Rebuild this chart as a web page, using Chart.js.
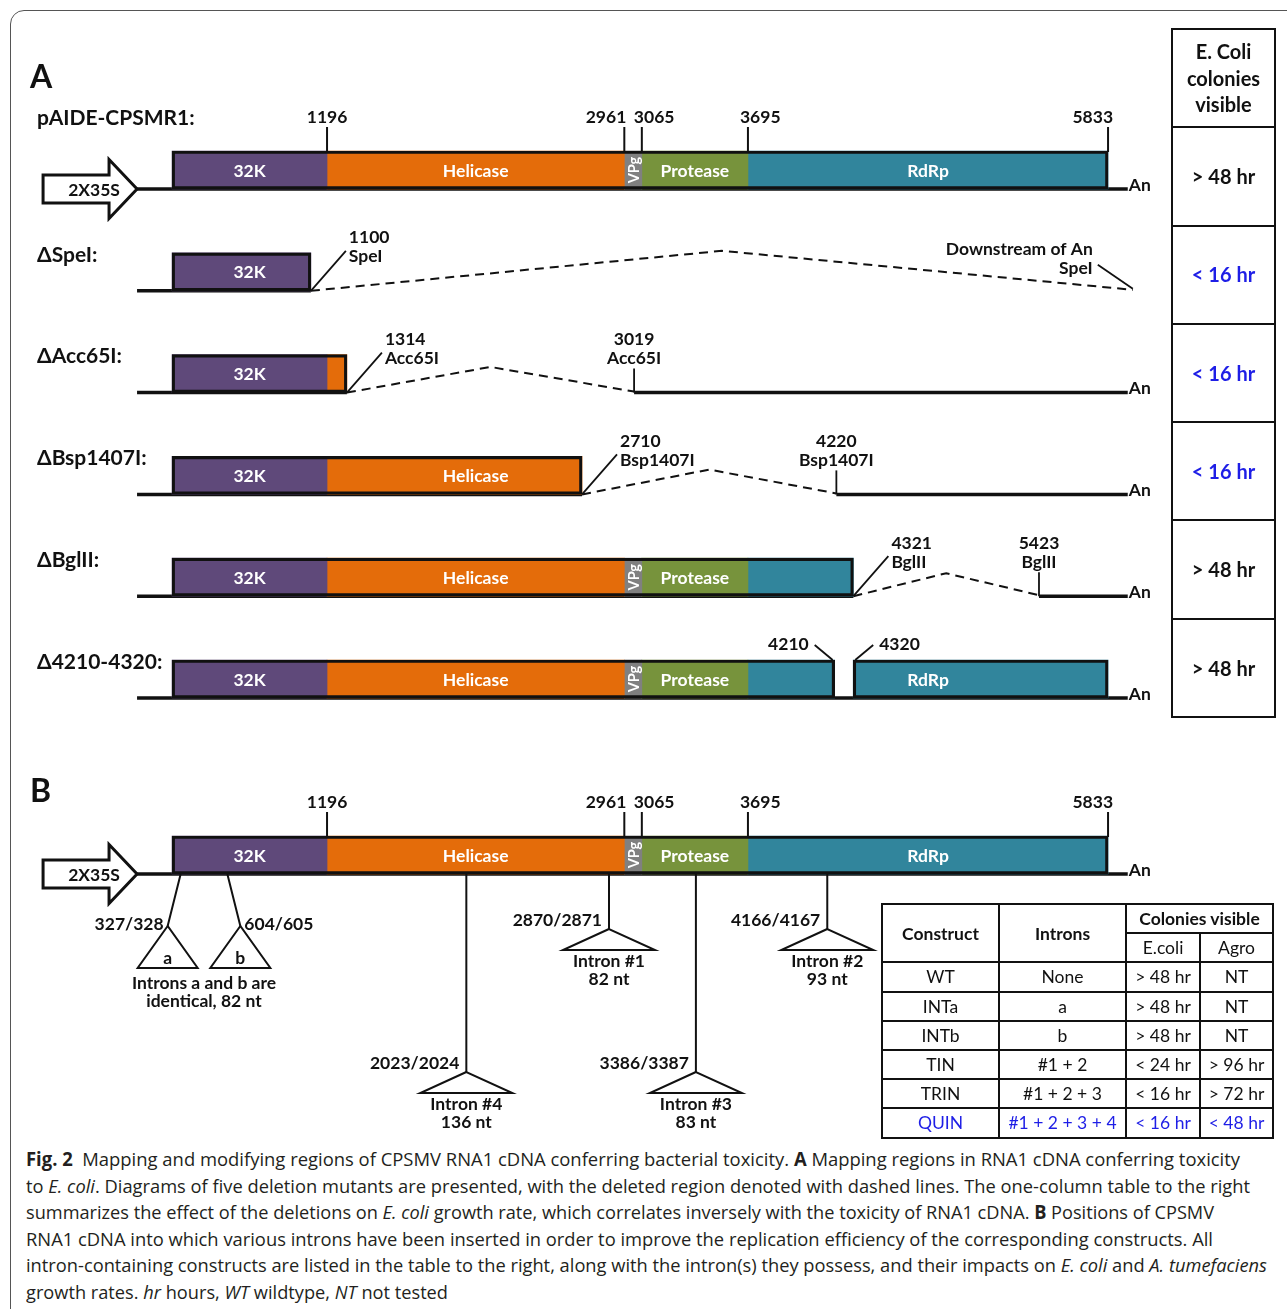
<!DOCTYPE html>
<html>
<head>
<meta charset="utf-8">
<title>CPSMV RNA1 cDNA deletion and intron maps</title>
<script src="https://cdn.jsdelivr.net/npm/chart.js@4.4.1/dist/chart.umd.min.js"></script>
<style>
  html, body { margin: 0; padding: 0; background: #fff; }
  body { width: 1287px; height: 1309px; position: relative; overflow: hidden; font-family: Lato, 'Open Sans', sans-serif; }
  #frame { position: absolute; left: 10px; top: 10px; width: 1400px; height: 1400px; border: 1.5px solid #555; border-radius: 14px; box-sizing: border-box; }
  #map { position: absolute; left: 0; top: 0; }
  table { position: absolute; border-collapse: collapse; table-layout: fixed; }
  td, th { border: 2px solid #111; padding: 0; text-align: center; color: #111; box-sizing: border-box; }
  #tableA { left: 1171px; top: 28px; width: 105px; }
  #tableA td { height: 98.3px; font: bold 20px Lato, sans-serif; line-height: 26.5px; }
  #tableB { left: 881px; top: 903px; width: 391px; }
  #tableB tr { height: 29.2px; }
  #tableB th { font: bold 17.5px Lato, sans-serif; }
  #tableB th.sub { font-weight: normal; }
  #tableB td { font: 17.5px Lato, sans-serif; }
  .hi { color: #1e1ee6 !important; }
  #caption { position: absolute; left: 26px; top: 1146px; font-family: 'Open Sans', 'Noto Sans', sans-serif; font-size: 19px; color: #231f20; }
  #caption div { white-space: nowrap; height: 26.6px; line-height: 26.6px; width: max-content; transform-origin: 0 50%; }
</style>
</head>
<body>
<div id="frame"></div>
<canvas id="map" width="1287" height="1145" style="width:1287px;height:1145px"></canvas>
<table id="tableA"></table>
<table id="tableB"></table>
<div id="caption"></div>
<script>
// ---- CPSMV RNA1 genome map (nucleotide coordinates) ----
const regionNames   = ['32K', 'Helicase', 'VPg', 'Protease', 'RdRp'];
const regionStart   = [276, 1196, 2961, 3065, 3695];
const regionEnd     = [1196, 2961, 3065, 3695, 5833];
const boundaryTicks = [1196, 2961, 3065, 3695, 5833];
const promoterName  = '2X35S';
const promoterSpan  = [-490, 68];
const polyASite     = 5950;

// ---- Panel A: deletion constructs ----
const constructNames = ['pAIDE-CPSMR1:', 'ΔSpeI:', 'ΔAcc65I:', 'ΔBsp1407I:', 'ΔBglII:', 'Δ4210-4320:'];
const deletionFrom   = [null, 1100, 1314, 2710, 4321, 4210];
const deletionTo     = [null, 5980, 3019, 4220, 5423, 4320];
const deletionEnzyme = [null, 'SpeI', 'Acc65I', 'Bsp1407I', 'BglII', null];
const inFrame        = [null, false, false, false, false, true];
const ecoliColonies  = ['> 48 hr', '< 16 hr', '< 16 hr', '< 16 hr', '> 48 hr', '> 48 hr'];

// ---- Panel B: intron insertion sites ----
const intronSites      = [327, 604, 2023, 2870, 3386, 4166];
const intronSiteLabels = ['327/328', '604/605', '2023/2024', '2870/2871', '3386/3387', '4166/4167'];
const intronNames      = ['a', 'b', 'Intron #4', 'Intron #1', 'Intron #3', 'Intron #2'];
const intronLengths    = [82, 82, 136, 82, 83, 93];

// ---- Intron construct table ----
const tableConstructs = ['WT', 'INTa', 'INTb', 'TIN', 'TRIN', 'QUIN'];
const tableIntrons    = ['None', 'a', 'b', '#1 + 2', '#1 + 2 + 3', '#1 + 2 + 3 + 4'];
const tableEcoli      = ['> 48 hr', '> 48 hr', '> 48 hr', '< 24 hr', '< 16 hr', '< 16 hr'];
const tableAgro       = ['NT', 'NT', 'NT', '> 96 hr', '> 72 hr', '< 48 hr'];
const highlightConstruct = 'QUIN';

// ---- Layout and style ----
const X_MIN = -745.7, X_MAX = 6895.5;
const TRACK_A0 = 170, TRACK_GAP = 101.8, TRACK_B = 855;
const BAR = 38, HALF = BAR / 2;
const PANEL_LETTERS = [['A', 78], ['B', 792]];
const REGION_COLORS = ['#5f497a', '#e46c0a', '#808080', '#77933c', '#31859c'];
const TICK_ALIGN = ['center', 'right', 'left', 'left', 'right'];
const TICK_SHIFT = [0, 2, -8, -8, 5];
const INTRON_DROP = [52, 52, 198, 55, 198, 55];
const INTRON_LEAN = [-13, 13, 0, 0, 0, 0];
const INK = '#111';
const FONT = 'Lato, sans-serif';
const TXT = 17.5;
const CAPTION_RIGHT = [1240, 1250, 1214, 1213, 1267, 448];

// Boxed (translated) spans of construct i
function keptSpans(i) {
  const full = [regionStart[0], regionEnd[regionEnd.length - 1]];
  if (deletionFrom[i] == null) return [full];
  const spans = [[full[0], deletionFrom[i]]];
  if (inFrame[i]) spans.push([deletionTo[i], full[1]]);
  return spans;
}

const tracksA = constructNames.map((name, i) => ({
  name, index: i, y: TRACK_A0 + i * TRACK_GAP,
  from: deletionFrom[i], to: deletionTo[i], enzyme: deletionEnzyme[i], inFrame: inFrame[i],
  header: i === 0, spans: keptSpans(i)
}));
const trackB = { name: null, index: -1, y: TRACK_B, from: null, to: null, header: true,
  spans: [[regionStart[0], regionEnd[regionEnd.length - 1]]] };
const allTracks = [...tracksA, trackB];

function backboneSegments(t) {
  const start = promoterSpan[1];
  if (t.from == null || t.inFrame) return [[start, polyASite]];
  const segs = [[start, t.from]];
  if (t.to < polyASite) segs.push([t.to, polyASite]);
  return segs;
}

// ---- Datasets ----
const regionDatasets = regionNames.map((name, r) => ({
  type: 'bar', label: name, indexAxis: 'y', grouped: false, order: 2,
  backgroundColor: REGION_COLORS[r], borderWidth: 0, barThickness: BAR,
  data: allTracks.flatMap(t => t.spans
    .map(([s, e]) => [Math.max(s, regionStart[r]), Math.min(e, regionEnd[r])])
    .filter(([s, e]) => e > s)
    .map(span => ({ x: span, y: t.y })))
}));

const outlineDataset = {
  type: 'bar', label: 'outline', indexAxis: 'y', grouped: false, order: 1,
  backgroundColor: 'rgba(0,0,0,0)', borderColor: INK, borderWidth: 2.5, borderSkipped: false,
  barThickness: BAR,
  data: allTracks.flatMap(t => t.spans.map(span => ({ x: span.slice(), y: t.y })))
};

const lineBase = { type: 'line', borderColor: INK, pointRadius: 0, pointHoverRadius: 0,
  tension: 0, fill: false, borderCapStyle: 'butt' };

const backboneDatasets = allTracks.flatMap(t => backboneSegments(t).map(([a, b]) => Object.assign({}, lineBase, {
  label: 'backbone', order: 3, borderWidth: 3.5,
  data: [{ x: a, y: t.y + HALF }, { x: b, y: t.y + HALF }]
})));

const deletionDatasets = tracksA.filter(t => t.from != null && !t.inFrame).map(t => {
  const bottom = t.y + HALF;
  const lift = 18 + (t.to - t.from) * 0.0045;
  return Object.assign({}, lineBase, {
    label: 'deleted', order: 3, borderWidth: 2, borderDash: [9, 6],
    data: [{ x: t.from, y: bottom }, { x: (t.from + t.to) / 2, y: bottom - lift }, { x: t.to, y: bottom - 1 }]
  });
});

// ---- Drawing helpers ----
function label(ctx, str, x, y, opt = {}) {
  ctx.font = `${opt.weight || 'bold'} ${opt.size || TXT}px ${FONT}`;
  ctx.fillStyle = opt.color || INK;
  ctx.textAlign = opt.align || 'center';
  ctx.textBaseline = 'middle';
  ctx.fillText(str, x, y);
}
function path(ctx, pts, width = 2) {
  ctx.beginPath();
  pts.forEach(([a, b], k) => k ? ctx.lineTo(a, b) : ctx.moveTo(a, b));
  ctx.lineWidth = width;
  ctx.strokeStyle = INK;
  ctx.stroke();
}

const annotations = {
  id: 'genomeMapAnnotations',
  afterDatasetsDraw(chart) {
    const { ctx, scales: { x, y } } = chart;
    const X = v => x.getPixelForValue(v);
    const Y = v => y.getPixelForValue(v);
    ctx.save();
    ctx.lineJoin = 'miter';

    PANEL_LETTERS.forEach(([ch, py]) => label(ctx, ch, 30, py, { size: 32, align: 'left' }));

    allTracks.forEach(t => {
      const cy = Y(t.y), top = cy - HALF, bottom = cy + HALF;

      // construct name
      if (t.name) label(ctx, t.name, 37, t.header ? top - 33 : cy - 17, { size: 21, align: 'left' });

      // promoter arrow and boundary ticks
      if (t.header) {
        const l = X(promoterSpan[0]), tip = X(promoterSpan[1]), neck = tip - 28;
        ctx.beginPath();
        ctx.moveTo(l, bottom - 14); ctx.lineTo(neck, bottom - 14); ctx.lineTo(neck, bottom - 29.5);
        ctx.lineTo(tip, bottom); ctx.lineTo(neck, bottom + 29.5); ctx.lineTo(neck, bottom + 14);
        ctx.lineTo(l, bottom + 14); ctx.closePath();
        ctx.fillStyle = '#fff'; ctx.fill();
        ctx.lineWidth = 3; ctx.strokeStyle = INK; ctx.stroke();
        label(ctx, promoterName, (l + tip) / 2 + 4, bottom + 1);

        boundaryTicks.forEach((v, k) => {
          const tx = X(v);
          path(ctx, [[tx, top + 1], [tx, top - 24]], 2);
          label(ctx, String(v), tx + TICK_SHIFT[k], top - 34, { align: TICK_ALIGN[k] });
        });
      }

      // region names inside boxes (placed at the centre of the full region)
      regionNames.forEach((name, r) => {
        const c = (regionStart[r] + regionEnd[r]) / 2;
        const narrow = X(regionEnd[r]) - X(regionStart[r]) < 30;
        const inside = t.spans.some(([s, e]) => {
          if (c < s || c > e) return false;
          if (narrow) return s <= regionStart[r] && e >= regionEnd[r];
          return X(e) - X(c) > 30 && X(c) - X(s) > 30;
        });
        if (!inside) return;
        if (narrow) {
          ctx.save();
          ctx.translate(X(c), cy);
          ctx.rotate(-Math.PI / 2);
          label(ctx, name, 0, 1, { size: 14.5, color: '#fff' });
          ctx.restore();
        } else {
          label(ctx, name, X(c), cy + 1, { color: '#fff' });
        }
      });

      // poly(A) tail
      const tailDeleted = t.from != null && !t.inFrame && t.to > polyASite;
      if (!tailDeleted) label(ctx, 'An', X(polyASite) + 1, bottom - 4, { align: 'left' });

      // deletion junctions
      if (t.from != null && !t.inFrame) {
        const fx = X(t.from), tx = X(t.to);
        path(ctx, [[fx, bottom], [fx + 35, bottom - 40]], 1.8);
        label(ctx, String(t.from), fx + 38, bottom - 53, { align: 'left' });
        label(ctx, t.enzyme, fx + 38, bottom - 34, { align: 'left' });
        if (t.to > polyASite) {
          path(ctx, [[tx, bottom - 2], [tx - 35, bottom - 26]], 1.8);
          label(ctx, 'Downstream of An', tx - 40, bottom - 41, { align: 'right' });
          label(ctx, t.enzyme, tx - 40, bottom - 22, { align: 'right' });
        } else {
          path(ctx, [[tx, bottom], [tx, bottom - 24]], 1.8);
          label(ctx, String(t.to), tx, bottom - 53);
          label(ctx, t.enzyme, tx, bottom - 34);
        }
      } else if (t.from != null) {
        const fx = X(t.from), tx = X(t.to);
        path(ctx, [[fx - 2, top], [fx - 20, top - 15]], 1.8);
        path(ctx, [[tx + 2, top], [tx + 20, top - 15]], 1.8);
        label(ctx, String(t.from), fx - 26, top - 16, { align: 'right' });
        label(ctx, String(t.to), tx + 26, top - 16, { align: 'left' });
      }
    });

    // intron insertion sites (panel B)
    const bottomB = Y(trackB.y) + HALF;
    const lettered = [];
    intronSites.forEach((site, k) => {
      const sx = X(site);
      const isLetter = intronNames[k].length === 1;
      const ax = sx + INTRON_LEAN[k], ay = bottomB + INTRON_DROP[k];
      const tri = isLetter ? { h: 42, w: 30 } : { h: 21, w: 46 };
      path(ctx, [[sx, bottomB], [ax, ay]], 2);
      ctx.beginPath();
      ctx.moveTo(ax, ay); ctx.lineTo(ax - tri.w, ay + tri.h); ctx.lineTo(ax + tri.w, ay + tri.h); ctx.closePath();
      ctx.fillStyle = '#fff'; ctx.fill();
      ctx.lineWidth = 2; ctx.strokeStyle = INK; ctx.stroke();
      if (isLetter) {
        lettered.push({ k, ax, base: ay + tri.h });
        label(ctx, intronNames[k], ax, ay + 32);
        const left = INTRON_LEAN[k] < 0;
        label(ctx, intronSiteLabels[k], left ? ax - 4 : ax + 4, ay - 2, { align: left ? 'right' : 'left' });
      } else {
        label(ctx, intronSiteLabels[k], sx - 7, ay - 9, { align: 'right' });
        label(ctx, intronNames[k], ax, ay + tri.h + 11);
        label(ctx, intronLengths[k] + ' nt', ax, ay + tri.h + 29);
      }
    });
    if (lettered.length) {
      const mx = lettered.reduce((s, o) => s + o.ax, 0) / lettered.length;
      const base = lettered[0].base;
      const names = lettered.map(o => intronNames[o.k]).join(' and ');
      label(ctx, `Introns ${names} are`, mx, base + 15);
      label(ctx, `identical, ${intronLengths[lettered[0].k]} nt`, mx, base + 33);
    }
    ctx.restore();
  }
};

function buildChart() {
  Chart.defaults.font.family = FONT;
  new Chart(document.getElementById('map'), {
    type: 'bar',
    data: { datasets: [outlineDataset, ...regionDatasets, ...backboneDatasets, ...deletionDatasets] },
    options: {
      responsive: false,
      animation: false,
      events: [],
      layout: { padding: 0 },
      plugins: { legend: { display: false }, tooltip: { enabled: false }, title: { display: false } },
      scales: {
        x: { type: 'linear', min: X_MIN, max: X_MAX, display: false, offset: false },
        y: { type: 'linear', min: 0, max: 1145, reverse: true, display: false, offset: false }
      }
    },
    plugins: [annotations]
  });
}

function buildTables() {
  const esc = s => s.replace(/</g, '&lt;').replace(/>/g, '&gt;');
  const a = document.getElementById('tableA');
  a.innerHTML = '<tr><td>E. Coli<br>colonies<br>visible</td></tr>' +
    ecoliColonies.map(v => `<tr><td class="${v.startsWith('<') ? 'hi' : ''}">${esc(v)}</td></tr>`).join('');

  const b = document.getElementById('tableB');
  b.innerHTML = '<colgroup><col style="width:117px"><col style="width:127px"><col style="width:74px"><col style="width:73px"></colgroup>' +
    '<tr><th rowspan="2">Construct</th><th rowspan="2">Introns</th><th colspan="2">Colonies visible</th></tr>' +
    '<tr><th class="sub">E.coli</th><th class="sub">Agro</th></tr>' +
    tableConstructs.map((c, i) => {
      const cls = c === highlightConstruct ? ' class="hi"' : '';
      return `<tr><td${cls}>${c}</td><td${cls}>${esc(tableIntrons[i])}</td><td${cls}>${esc(tableEcoli[i])}</td><td${cls}>${esc(tableAgro[i])}</td></tr>`;
    }).join('');
}

const captionLines = [
  '<b>Fig. 2</b>&nbsp; Mapping and modifying regions of CPSMV RNA1 cDNA conferring bacterial toxicity. <b>A</b> Mapping regions in RNA1 cDNA conferring toxicity',
  'to <i>E. coli</i>. Diagrams of five deletion mutants are presented, with the deleted region denoted with dashed lines. The one-column table to the right',
  'summarizes the effect of the deletions on <i>E. coli</i> growth rate, which correlates inversely with the toxicity of RNA1 cDNA. <b>B</b> Positions of CPSMV',
  'RNA1 cDNA into which various introns have been inserted in order to improve the replication efficiency of the corresponding constructs. All',
  'intron-containing constructs are listed in the table to the right, along with the intron(s) they possess, and their impacts on <i>E. coli</i> and <i>A. tumefaciens</i>',
  'growth rates. <i>hr</i> hours, <i>WT</i> wildtype, <i>NT</i> not tested'
];

function buildCaption() {
  const cap = document.getElementById('caption');
  cap.innerHTML = captionLines.map(l => `<div>${l}</div>`).join('');
  [...cap.children].forEach((div, i) => {
    const w = div.getBoundingClientRect().width;
    const target = CAPTION_RIGHT[i] - 26;
    if (w > 0) div.style.transform = `scaleX(${(target / w).toFixed(4)})`;
  });
}

Promise.all([
  document.fonts.load('bold 16px Lato'),
  document.fonts.load('16px Lato'),
  document.fonts.load('19px "Open Sans"'),
  document.fonts.load('bold 19px "Open Sans"'),
  document.fonts.load('italic 19px "Open Sans"')
]).catch(() => {}).then(() => {
  buildTables();
  buildCaption();
  buildChart();
});
</script>
</body>
</html>
